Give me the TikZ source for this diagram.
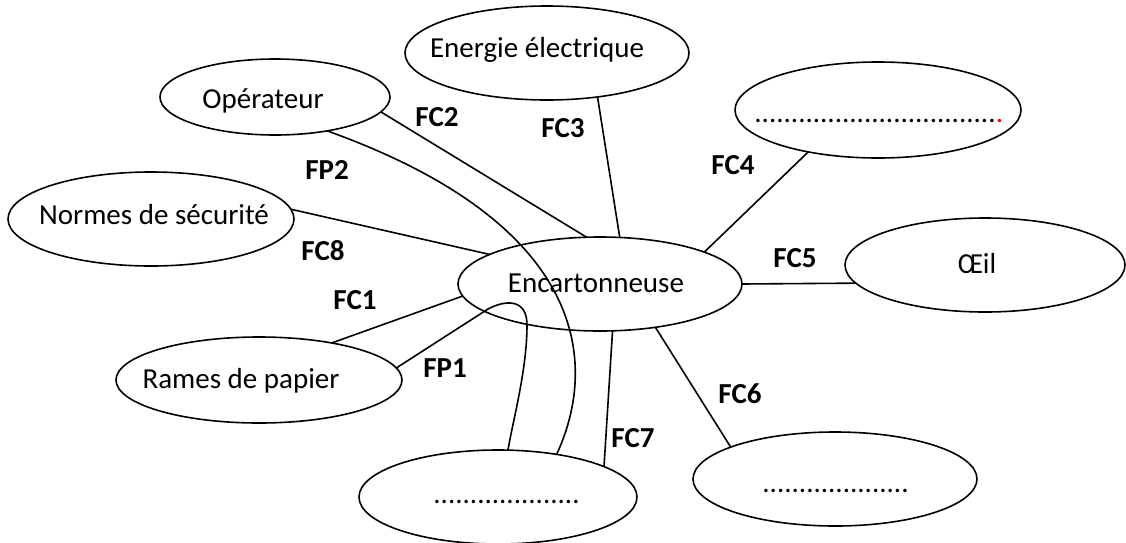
\documentclass[tikz,border=0pt]{standalone}
\usepackage{fontspec}
\setmainfont{Carlito}
\usetikzlibrary{shapes.geometric}
\begin{document}
\begin{tikzpicture}[x=0.5pt,y=-0.5pt,
  ell/.style={ellipse, draw, line width=0.8pt, inner sep=0pt, outer sep=0pt},
  txt/.style={anchor=base, inner sep=0pt, font=\fontsize{14.5}{17}\selectfont},
  dots/.style={anchor=base west, inner sep=0pt, font=\fontsize{14.5}{17}\selectfont},
  lab/.style={anchor=base, inner sep=0pt, font=\fontsize{14.5}{17}\selectfont\bfseries},
  con/.style={line width=0.8pt}]
\useasboundingbox (0,0) rectangle (1126,542);
% ellipses
\node[ell, minimum width=115pt, minimum height=38pt] (op) at (275,97) {};
\node[ell, minimum width=142pt, minimum height=47pt] (en) at (547,53) {};
\node[ell, minimum width=143pt, minimum height=48pt] (tr) at (878,110) {};
\node[ell, minimum width=143pt, minimum height=47pt] (nm) at (151,219) {};
\node[ell, minimum width=142pt, minimum height=47pt] (enc) at (600,284) {};
\node[ell, minimum width=140pt, minimum height=47pt] (oe) at (985,265) {};
\node[ell, minimum width=143pt, minimum height=43pt] (rp) at (259,380) {};
\node[ell, minimum width=139pt, minimum height=47pt] (bm) at (498,497) {};
\node[ell, minimum width=142pt, minimum height=47pt] (br) at (835,479) {};
% texts
\node[txt] (opT) at (263,108) {Opérateur};
\node[txt] (enT) at (537,57) {Energie électrique};
\node[txt] (nmT) at (154,224) {Normes de sécurité};
\node[txt] (rpT) at (241,388) {Rames de papier};
\node[txt] (encT) at (596,292) {Encartonneuse};
\node[txt] (oeT) at (977,273) {Œil};
\node[dots] (trT) at (754,122) {.................................\textcolor{red}{.}};
\node[dots] (bmT) at (433,503) {....................};
\node[dots] (brT) at (762,492) {....................};
% labels
\node[lab] (lFC2) at (437,126) {FC2};
\node[lab] (lFC3) at (563,137) {FC3};
\node[lab] (lFP2) at (327,179) {FP2};
\node[lab] (lFC4) at (733,174) {FC4};
\node[lab] (lFC8) at (323,260) {FC8};
\node[lab] (lFC5) at (795,267) {FC5};
\node[lab] (lFC1) at (355,309) {FC1};
\node[lab] (lFP1) at (445,377) {FP1};
\node[lab] (lFC6) at (740,403) {FC6};
\node[lab] (lFC7) at (633,447) {FC7};
% connectors
\draw[con] (op.-8.4) -- (enc.106.9);
\draw[con] (en.-41.6) -- (enc.67.6);
\draw[con] (nm.4.4) -- (enc.165);
\draw[con] (rp.27.7) -- (enc.185.7);
\draw[con] (tr.-149) -- (enc.17.9);
\draw[con] (enc.0) -- (oe.188);
\draw[con] (enc.-38.4) -- (br.163.3);
\draw[con] (enc.-75.7) -- (bm.16.8);
\draw[con] (op.-33.2) .. controls (590,225) and (598,365) .. (bm.36.9);
\coordinate (fp1a) at (488,309);
\coordinate (fp1b) at (527,325);
\draw[con] (rp.5.9) -- (fp1a) .. controls (505,300) and (527,298) .. (fp1b)
  .. controls (527,370) and (513,420) .. (bm.78);
\end{tikzpicture}
\end{document}
